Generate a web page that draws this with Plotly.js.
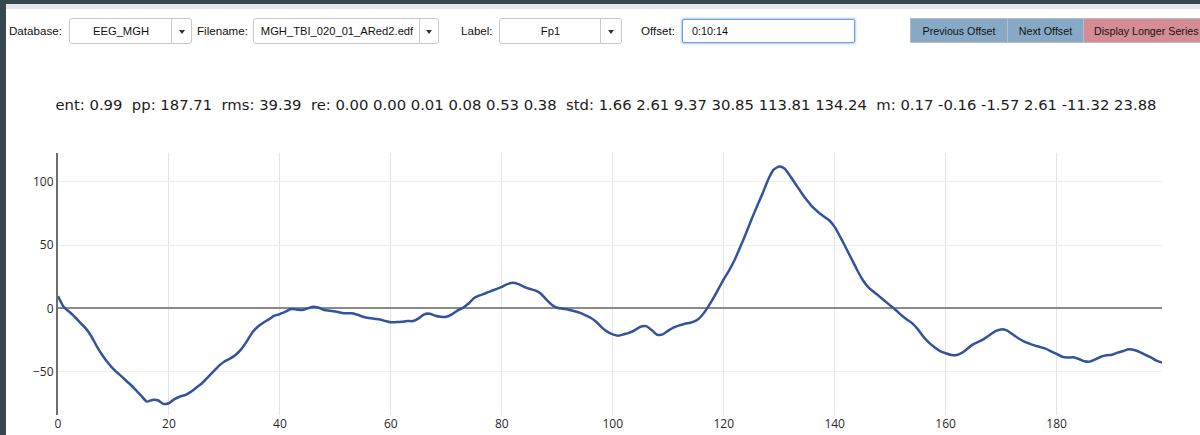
<!DOCTYPE html>
<html>
<head>
<meta charset="utf-8">
<script src="https://cdn.plot.ly/plotly-3.0.1.min.js"></script>
<style>
  html, body { margin: 0; padding: 0; width: 1200px; height: 435px; overflow: hidden; background: #fff; }
  .frame-top { position: absolute; left: 0; top: 0; width: 1200px; height: 4px; background: #37474f; z-index: 5; }
  .frame-strip { position: absolute; left: 0; top: 4px; width: 1200px; height: 5px; background: #e3e6ea; z-index: 5; }
  .frame-left { position: absolute; left: 0; top: 0; width: 6px; height: 435px; background: #37474f; z-index: 6; }
  .lbl { position: absolute; top: 18px; height: 26px; line-height: 26px; font-family: "Liberation Sans", Arial, sans-serif; font-size: 11.6px; color: #111; white-space: nowrap; }
  .sel { position: absolute; top: 18px; height: 24px; border: 1px solid #c8c8c8; border-radius: 3px; background: #fff; box-sizing: content-box; }
  .sel .val { position: absolute; top: 0; left: 0; height: 24px; line-height: 24px; text-align: center; font-family: "Liberation Sans", Arial, sans-serif; font-size: 11.2px; color: #111; white-space: nowrap; }
  .sel .dd { position: absolute; top: 0; right: 0; height: 24px; border-left: 1px solid #c8c8c8; }
  .sel .dd::after { content: ""; position: absolute; left: 50%; top: 11px; margin-left: -3px; border-left: 3px solid transparent; border-right: 3px solid transparent; border-top: 4px solid #333; }
  .inp { position: absolute; top: 19px; left: 682px; width: 162px; height: 22px; border: 1px solid #6f9de0; border-radius: 2px; box-shadow: 0 0 2px 1px rgba(110,160,230,0.55); background: #fff; font-family: "Liberation Sans", Arial, sans-serif; font-size: 10.8px; line-height: 22px; color: #111; padding-left: 9px; box-sizing: content-box; }
  .btn { position: absolute; top: 18px; height: 25px; line-height: 25px; border: 1px solid #b9bcc0; text-align: center; font-family: "Liberation Sans", Arial, sans-serif; font-size: 10.7px; color: #111; white-space: nowrap; box-sizing: border-box; }
  #plot { position: absolute; left: 0; top: 60px; width: 1200px; height: 375px; }
</style>
</head>
<body>
<div class="frame-top"></div>
<div class="frame-strip"></div>
<div class="frame-left"></div>

<div class="lbl" style="left:9px;">Database:</div>
<div class="sel" style="left:69px; width:121px;">
  <div class="val" style="width:102px;">EEG_MGH</div>
  <div class="dd" style="width:19px;"></div>
</div>

<div class="lbl" style="left:197px;">Filename:</div>
<div class="sel" style="left:253px; width:184px;">
  <div class="val" style="width:166px;">MGH_TBI_020_01_ARed2.edf</div>
  <div class="dd" style="width:18px;"></div>
</div>

<div class="lbl" style="left:461px;">Label:</div>
<div class="sel" style="left:499px; width:121px;">
  <div class="val" style="width:101px;">Fp1</div>
  <div class="dd" style="width:20px;"></div>
</div>

<div class="lbl" style="left:641px;">Offset:</div>
<div class="inp">0:10:14</div>

<div class="btn" style="left:910px; width:98px; background:#88a9c5;">Previous Offset</div>
<div class="btn" style="left:1007px; width:77px; background:#88a9c5;">Next Offset</div>
<div class="btn" style="left:1083px; width:125px; background:#d68c95; text-align:left; padding-left:10px;">Display Longer Series</div>

<div id="plot"></div>

<script>
// Fp1 channel, one 200-sample window
const sampleIndex = Array.from({length: 200}, (_, i) => i);
const fp1 = [
  9.7, 1.3, -2.6, -6.6, -11.3, -15.8, -22, -30, -37, -43,
  -48, -52, -56, -60, -64.5, -69, -73.7, -72.4, -72.6, -75.5,
  -75, -71.8, -69.7, -68.4, -65.8, -62.4, -59, -54.5, -50, -45.5,
  -42, -39.7, -36.8, -32.4, -26.3, -19.2, -14.5, -11.3, -8.7, -5.8,
  -4.5, -2.6, -0.5, -0.8, -1.3, 0, 1.3, 0.5, -1.3, -1.8,
  -2.4, -3.4, -3.9, -3.9, -5, -6.6, -7.6, -8.2, -8.7, -10,
  -11, -10.8, -10.5, -10, -10, -7.9, -4.7, -4.2, -5.8, -6.6,
  -6.6, -4.7, -1.8, 0.5, 3.9, 8.2, 10.3, 11.8, 13.7, 15.3,
  17.1, 19.2, 20.3, 19.2, 17.1, 15.5, 14.2, 11.8, 7.1, 2.9,
  0.5, -0.3, -1, -2.1, -3.4, -5.3, -7.4, -10.5, -15, -18.4,
  -20.5, -21.6, -20.5, -19.2, -17.1, -14.5, -14, -17.1, -20.8, -20.5,
  -17.6, -15, -13.4, -12.1, -11.3, -9.7, -6, 0, 7.1, 15,
  22.9, 30.3, 38.7, 48.7, 59.2, 70.3, 80.8, 90.8, 101.8, 109.7,
  112.2, 110.5, 104.5, 98, 91.5, 85.5, 80.3, 76.3, 72.9, 69.7,
  64.5, 56.6, 48.2, 39.5, 30.8, 22.9, 17.1, 13.2, 9.7, 6,
  2.4, -1.3, -5.3, -8.7, -11.8, -16.6, -22.4, -27.1, -30.8, -33.7,
  -35.5, -36.8, -36.8, -35, -31.6, -28.2, -26.3, -23.9, -20.8, -17.9,
  -16.6, -17.4, -20.3, -23.4, -25.8, -27.6, -29.2, -30.5, -31.8, -33.9,
  -36, -38.2, -38.9, -38.7, -40, -41.8, -42.1, -40.3, -38.2, -37.1,
  -36.6, -35, -33.7, -32.4, -32.9, -34.5, -36.8, -38.7, -41.3, -42.9
];

// window statistics shown above the trace
const ent = 0.99;
const pp = 187.71;
const rms = 39.39;
const re = [0.00, 0.00, 0.01, 0.08, 0.53, 0.38];
const std = [1.66, 2.61, 9.37, 30.85, 113.81, 134.24];
const m = [0.17, -0.16, -1.57, 2.61, -11.32, 23.88];

const fmt = v => v.toFixed(2);
const gap = '\u00a0\u00a0';
const statsText = [
  'ent: ' + fmt(ent),
  'pp: ' + fmt(pp),
  'rms: ' + fmt(rms),
  're: ' + re.map(fmt).join(' '),
  'std: ' + std.map(fmt).join(' '),
  'm: ' + m.map(fmt).join(' ')
].join(gap);

const trace = {
  x: sampleIndex,
  y: fp1,
  type: 'scatter',
  mode: 'lines',
  line: { color: '#33539a', width: 2.5, shape: 'spline', smoothing: 0.6 },
  hoverinfo: 'x+y'
};

const layout = {
  width: 1200,
  height: 375,
  margin: { l: 58, r: 38, t: 93, b: 20 },
  paper_bgcolor: 'rgba(0,0,0,0)',
  plot_bgcolor: '#fff',
  showlegend: false,
  title: {
    text: statsText,
    x: 0.505, xref: 'container', xanchor: 'center',
    y: 0.88, yref: 'container', yanchor: 'middle',
    font: { family: 'DejaVu Sans, Verdana, sans-serif', size: 14.8, color: '#1c1c1c' }
  },
  xaxis: {
    range: [0, 199],
    dtick: 20,
    showgrid: true,
    gridcolor: '#e4e4e4',
    zeroline: false,
    showline: false,
    ticks: '',
    tickfont: { family: 'Open Sans, sans-serif', size: 12, color: '#2a2a2a' }
  },
  yaxis: {
    range: [-84.3, 122.9],
    dtick: 50,
    showgrid: true,
    gridcolor: '#efefef',
    zeroline: true,
    zerolinecolor: '#8a8a8a',
    zerolinewidth: 2,
    showline: true,
    linecolor: '#6e6e6e',
    linewidth: 2,
    ticks: '',
    tickfont: { family: 'Open Sans, sans-serif', size: 12, color: '#2a2a2a' }
  }
};

Plotly.newPlot('plot', [trace], layout, { displayModeBar: false, staticPlot: true });
</script>
</body>
</html>
